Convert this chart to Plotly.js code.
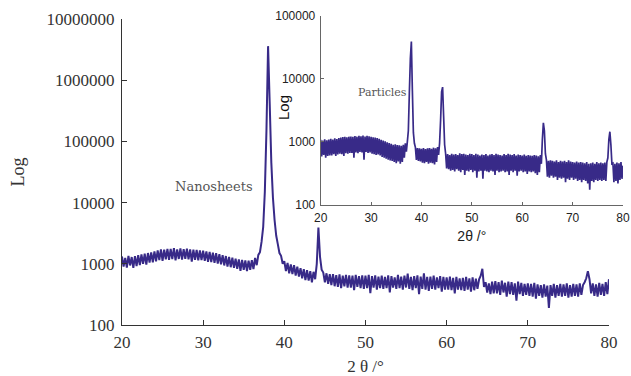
<!DOCTYPE html>
<html>
<head>
<meta charset="utf-8">
<script src="https://cdn.plot.ly/plotly-3.0.1.min.js"></script>
<style>html,body{margin:0;padding:0;background:#fff;}#chart{width:631px;height:376px;}</style>
</head>
<body>
<div id="chart"></div>
<script>
// 2θ grid: starts at 20°, step 0.2° (301 points, 20..80)
const thetaStart = 20;
const thetaStep = 0.2;

// Nanosheets intensity (main plot)
const nanosheets = [
  1320, 900, 1250, 870, 1350, 940, 1290, 860, 1330, 920,
  1380, 950, 1420, 1000, 1460, 970, 1500, 1050, 1540, 1060,
  1600, 1100, 1660, 1150, 1720, 1120, 1700, 1180, 1760, 1160,
  1750, 1190, 1800, 1140, 1720, 1200, 1780, 1170, 1740, 1210,
  1770, 1180, 1720, 1090, 1700, 1160, 1690, 1140, 1650, 1150,
  1640, 1120, 1600, 1080, 1560, 1070, 1520, 1040, 1490, 1010,
  1440, 980, 1390, 940, 1340, 900, 1300, 880, 1260, 860,
  1210, 830, 1180, 770, 1160, 800, 1140, 760, 1130, 800,
  1150, 820, 1250, 950, 1400, 1550, 2300, 4000, 15000, 150000,
  3600000, 420000, 45000, 12000, 5200, 2900, 2100, 1500, 1350, 1000,
  1100, 760, 1030, 700, 980, 680, 950, 640, 900, 620,
  850, 580, 820, 540, 790, 530, 760, 500, 740, 560,
  1000, 3900, 1300, 800, 720, 500, 700, 470, 680, 450,
  680, 430, 650, 420, 670, 400, 640, 430, 660, 410,
  650, 410, 640, 370, 660, 420, 630, 400, 650, 390,
  640, 400, 660, 330, 630, 410, 650, 380, 620, 400,
  640, 390, 610, 400, 650, 340, 630, 410, 600, 390,
  660, 400, 620, 380, 640, 410, 690, 390, 610, 370,
  630, 400, 650, 320, 620, 390, 700, 380, 610, 360,
  620, 390, 640, 380, 600, 400, 630, 350, 610, 380,
  600, 380, 620, 370, 590, 330, 610, 380, 580, 370,
  590, 360, 610, 380, 580, 350, 600, 370, 570, 390,
  560, 640, 830, 420, 500, 340, 480, 320, 510, 330,
  520, 330, 500, 310, 530, 340, 490, 290, 510, 320,
  500, 310, 480, 250, 510, 320, 490, 300, 470, 310,
  480, 300, 470, 290, 490, 270, 460, 300, 450, 280,
  460, 290, 440, 190, 450, 300, 470, 280, 450, 300,
  470, 290, 460, 300, 480, 280, 450, 290, 470, 300,
  460, 290, 480, 310, 450, 500, 580, 760, 560, 330,
  480, 300, 460, 290, 490, 310, 470, 300, 500, 320,
  560
];

// Particles intensity (inset)
const particles = [
  1080, 590, 1050, 620, 1100, 560, 1060, 600, 1090, 610,
  1120, 610, 1090, 640, 1140, 600, 1110, 630, 1150, 650,
  1170, 640, 1190, 600, 1200, 660, 1180, 650, 1210, 670,
  1220, 670, 1200, 560, 1240, 680, 1210, 660, 1250, 690,
  1230, 680, 1260, 520, 1220, 690, 1250, 670, 1230, 680,
  1200, 650, 1180, 640, 1170, 620, 1150, 630, 1120, 610,
  1080, 580, 1050, 560, 1020, 540, 990, 520, 960, 510,
  930, 500, 900, 480, 920, 460, 890, 490, 880, 450,
  870, 480, 900, 560, 950, 700, 1000, 1500, 6000, 21000,
  39000, 6500, 1400, 950, 820, 520, 800, 500, 790, 490,
  780, 470, 800, 460, 770, 480, 790, 450, 800, 470,
  780, 460, 810, 440, 790, 480, 830, 620, 950, 2200,
  6200, 7400, 2600, 900, 650, 380, 640, 370, 620, 350,
  650, 360, 630, 340, 640, 370, 620, 350, 660, 330,
  640, 360, 650, 300, 630, 350, 620, 340, 650, 360,
  640, 330, 620, 350, 650, 270, 630, 340, 610, 350,
  630, 260, 620, 350, 640, 340, 610, 330, 630, 350,
  640, 340, 620, 300, 650, 350, 630, 330, 620, 340,
  610, 350, 640, 330, 620, 340, 650, 300, 630, 350,
  620, 330, 640, 350, 610, 290, 630, 340, 620, 350,
  610, 330, 630, 340, 600, 310, 620, 340, 610, 330,
  600, 340, 620, 320, 610, 300, 590, 330, 620, 450,
  1100, 2000, 1500, 650, 520, 280, 500, 270, 510, 290,
  500, 270, 490, 280, 510, 250, 480, 270, 500, 260,
  490, 270, 500, 230, 480, 260, 510, 250, 490, 270,
  480, 250, 470, 260, 490, 240, 470, 250, 480, 230,
  470, 250, 460, 240, 480, 220, 450, 175, 460, 240,
  470, 230, 450, 250, 480, 240, 460, 250, 470, 240,
  460, 250, 470, 240, 480, 560, 1100, 1450, 900, 450,
  460, 230, 450, 240, 470, 220, 460, 250, 480, 260,
  420
];

// Tick labels
const xTicks = [20, 30, 40, 50, 60, 70, 80];
const mainYTicks = [100, 1000, 10000, 100000, 1000000, 10000000];
const mainYTickText = ['100', '1000', '10000', '100000', '1000000', '10000000'];
const insetYTicks = [100, 1000, 10000, 100000];
const insetYTickText = ['100', '1000', '10000', '100000'];

const lineColor = '#382a88';
const serif = 'Liberation Serif, Times New Roman, serif';
const sans = 'Liberation Sans, Arial, sans-serif';

const data = [
  {x0: thetaStart, dx: thetaStep, y: nanosheets, type: 'scatter', mode: 'lines',
   line: {color: lineColor, width: 2, simplify: false}, xaxis: 'x', yaxis: 'y', hoverinfo: 'skip'},
  {x0: thetaStart, dx: thetaStep, y: particles, type: 'scatter', mode: 'lines',
   line: {color: lineColor, width: 1.7, simplify: false}, xaxis: 'x2', yaxis: 'y2', hoverinfo: 'skip'}
];

const layout = {
  width: 631, height: 376,
  margin: {l: 0, r: 0, t: 0, b: 0},
  paper_bgcolor: '#fff', plot_bgcolor: 'rgba(0,0,0,0)',
  showlegend: false,
  xaxis: {
    domain: [0.1933, 0.9651], range: [20, 80], anchor: 'y',
    tickvals: xTicks, ticks: 'inside', ticklen: 5, tickcolor: '#333',
    showline: true, linecolor: '#333', linewidth: 1, showgrid: false, zeroline: false,
    tickfont: {family: serif, size: 17, color: '#333'}, ticklabelstandoff: 2,
    title: {text: '2 θ /°', font: {family: serif, size: 17, color: '#333'}, standoff: 13},
    automargin: false
  },
  yaxis: {
    domain: [0.1356, 0.9495], type: 'log', range: [2, 7], anchor: 'x',
    tickvals: mainYTicks, ticktext: mainYTickText, ticks: 'inside', ticklen: 5, tickcolor: '#333',
    showline: true, linecolor: '#333', linewidth: 1, showgrid: false, zeroline: false,
    tickfont: {family: serif, size: 17, color: '#333'}, ticklabelstandoff: 3,
    title: {text: 'Log', font: {family: serif, size: 18, color: '#333'}, standoff: 17},
    automargin: false
  },
  xaxis2: {
    domain: [0.5082, 0.9873], range: [20, 80], anchor: 'y2',
    tickvals: xTicks, ticks: 'inside', ticklen: 3, tickcolor: '#666',
    showline: true, linecolor: '#666', linewidth: 1, showgrid: false, zeroline: false,
    tickfont: {family: sans, size: 12, color: '#222'}, ticklabelstandoff: 2,
    title: {text: '2θ /°', font: {family: sans, size: 14, color: '#222'}, standoff: 6},
    automargin: false
  },
  yaxis2: {
    domain: [0.4548, 0.9582], type: 'log', range: [2, 5], anchor: 'x2',
    tickvals: insetYTicks, ticktext: insetYTickText, ticks: 'inside', ticklen: 3, tickcolor: '#666',
    showline: true, linecolor: '#666', linewidth: 1, showgrid: false, zeroline: false,
    tickfont: {family: sans, size: 12, color: '#222'}, ticklabelstandoff: 2,
    automargin: false
  },
  annotations: [
    {text: 'Nanosheets', xref: 'x', yref: 'y', x: 26.3, y: 4.255, xanchor: 'left', yanchor: 'middle',
     showarrow: false, font: {family: 'DejaVu Serif, serif', size: 13, color: '#555'}},
    {text: 'Particles', xref: 'x2', yref: 'y2', x: 27.1, y: 3.79, xanchor: 'left', yanchor: 'middle',
     showarrow: false, font: {family: 'DejaVu Serif, serif', size: 11, color: '#555'}},
    {text: 'Log', xref: 'paper', yref: 'paper', x: 283 / 631, y: 1 - 108 / 376, xanchor: 'center', yanchor: 'middle',
     textangle: -90, showarrow: false, font: {family: sans, size: 15, color: '#111'}}
  ]
};

Plotly.newPlot('chart', data, layout, {staticPlot: true, displayModeBar: false});
</script>
</body>
</html>
